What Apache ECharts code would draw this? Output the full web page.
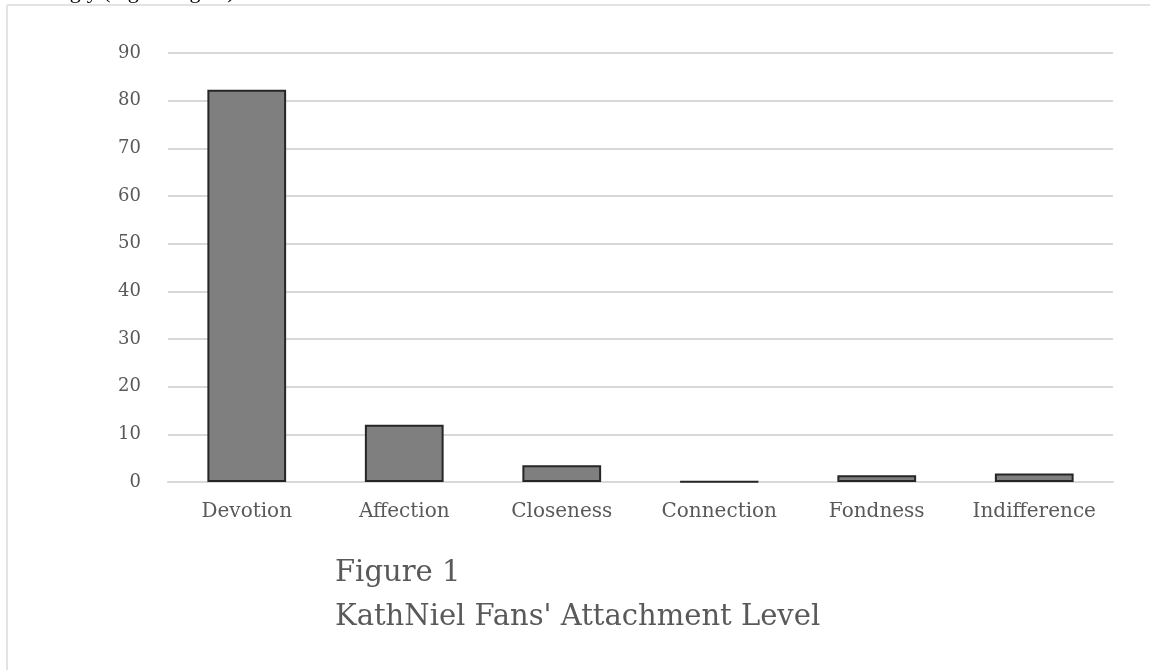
<!DOCTYPE html>
<html>
<head>
<meta charset="utf-8">
<script src="https://cdn.jsdelivr.net/npm/echarts@6/dist/echarts.min.js"></script>
<style>
  html, body { margin: 0; padding: 0; background: #ffffff; }
  #chart { width: 1150px; height: 670px; }
</style>
</head>
<body>
<div id="chart"></div>
<script>
// Attachment level categories and their percentages
const categories = ['Devotion', 'Affection', 'Closeness', 'Connection', 'Fondness', 'Indifference'];
const values = [82.3, 12, 3.5, 0.1, 1.4, 1.8];
const yTicks = { min: 0, max: 90, interval: 10 };
const captionLines = ['Figure 1', "KathNiel Fans' Attachment Level"];
const headerText = 'Strongly (highest agree)';

const chart = echarts.init(document.getElementById('chart'), null, { renderer: 'canvas' });

const labelFont = '"DejaVu Serif", "Liberation Serif", serif';

chart.setOption({
  backgroundColor: '#ffffff',
  animation: false,
  grid: { left: 168, right: 37, top: 53, bottom: 188, containLabel: false },
  xAxis: {
    type: 'category',
    data: categories,
    axisLine: { show: true, lineStyle: { color: '#d9d9d9', width: 2 } },
    axisTick: { show: false },
    axisLabel: { color: '#595959', fontSize: 20, fontFamily: labelFont, margin: 20, interval: 0, hideOverlap: false }
  },
  yAxis: {
    type: 'value',
    min: yTicks.min,
    max: yTicks.max,
    interval: yTicks.interval,
    axisLine: { show: false },
    axisTick: { show: false },
    splitLine: { lineStyle: { color: '#d9d9d9', width: 2 } },
    axisLabel: { color: '#595959', fontSize: 18, fontFamily: labelFont, margin: 27 }
  },
  series: [{
    type: 'bar',
    data: values,
    barCategoryGap: '50%',
    itemStyle: { color: '#7f7f7f', borderColor: '#262626', borderWidth: 2 }
  }],
  graphic: [
    // page frame edges
    { type: 'line', shape: { x1: 7, y1: 5, x2: 1150, y2: 5 }, style: { stroke: '#e3e3e3', lineWidth: 2 } },
    { type: 'line', shape: { x1: 7, y1: 5, x2: 7, y2: 670 }, style: { stroke: '#e3e3e3', lineWidth: 2 } },
    // line of body text above the frame, mostly out of view
    { type: 'text', left: 22, top: -19,
      style: { text: headerText, fill: '#000000', font: '22px "Liberation Serif", serif' } },
    // figure caption
    { type: 'text', left: 335, top: 559,
      style: { text: captionLines[0], fill: '#595959', font: '29px "DejaVu Serif", serif' } },
    { type: 'text', left: 335, top: 603,
      style: { text: captionLines[1], fill: '#595959', font: '29px "DejaVu Serif", serif' } }
  ]
});
</script>
</body>
</html>
